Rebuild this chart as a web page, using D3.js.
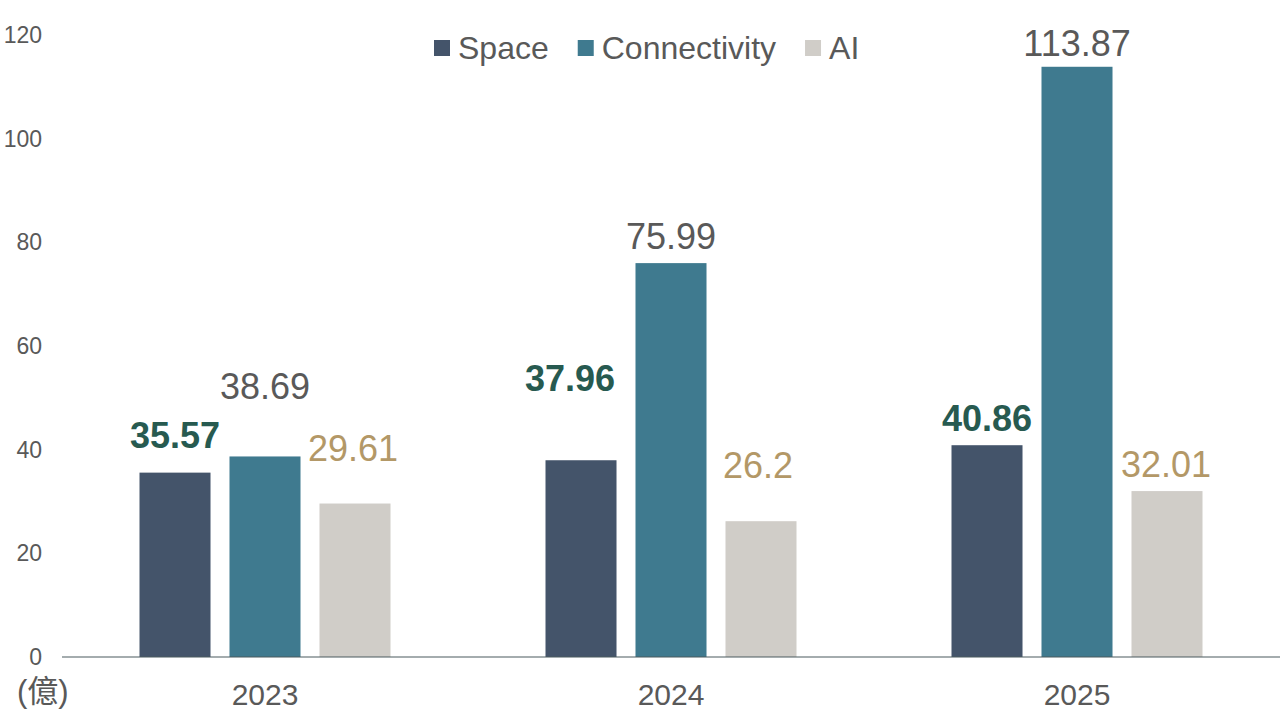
<!DOCTYPE html>
<html>
<head>
<meta charset="utf-8">
<script src="https://cdn.jsdelivr.net/npm/d3@7"></script>
<style>
  html, body { margin: 0; padding: 0; background: #fff; }
  svg { display: block; font-family: "Liberation Sans", Arial, sans-serif; }
</style>
</head>
<body>
<svg id="chart" width="1280" height="720"></svg>
<script>
// ---- data ----
const years = ["2023", "2024", "2025"];
const seriesNames = ["Space", "Connectivity", "AI"];
const spaceValues = [35.57, 37.96, 40.86];
const connectivityValues = [38.69, 75.99, 113.87];
const aiValues = [29.61, 26.2, 32.01];
const yTicks = [0, 20, 40, 60, 80, 100, 120];
const unitLabel = "(億)";

// label nudges (dx, gap above bar top) per series per year
const labelNudgeSpace = [[0, 25], [-11, 69], [0, 14]];
const labelNudgeConn = [[0, 57], [0, 14], [0, 11]];
const labelNudgeAI = [[-2, 43], [-3, 43], [-1, 14]];

const barColors = ["#44546A", "#3F7A8F", "#D0CDC8"];
const labelColors = ["#275A50", "#595959", "#B39867"];
const labelWeights = ["bold", "normal", "normal"];

const seriesValues = [spaceValues, connectivityValues, aiValues];
const nudges = [labelNudgeSpace, labelNudgeConn, labelNudgeAI];

const svg = d3.select("#chart");

const x0 = d3.scaleBand().domain(years).range([62, 1280]).paddingInner(0).paddingOuter(0);
const x1 = d3.scaleBand().domain(seriesNames).range([77.5, 328.5]).paddingInner(0.211).paddingOuter(0);
const y = d3.scaleLinear().domain([0, 120]).range([657, 35]);

// y tick labels
svg.append("g").selectAll("text").data(yTicks).join("text")
  .attr("x", 42).attr("y", d => y(d))
  .attr("dy", "0.35em")
  .attr("text-anchor", "end")
  .attr("font-size", 23)
  .attr("fill", "#595959")
  .text(d => d);

// bars
const rows = [];
seriesNames.forEach((s, si) => {
  years.forEach((yr, yi) => {
    rows.push({ series: s, si, year: yr, yi, value: seriesValues[si][yi], nudge: nudges[si][yi] });
  });
});

svg.append("g").selectAll("rect").data(rows).join("rect")
  .attr("x", d => x0(d.year) + x1(d.series))
  .attr("y", d => y(d.value))
  .attr("width", x1.bandwidth())
  .attr("height", d => y(0) - y(d.value))
  .attr("fill", d => barColors[d.si]);

// axis line
svg.append("line")
  .attr("x1", 62).attr("x2", 1280)
  .attr("y1", y(0)).attr("y2", y(0))
  .attr("stroke", "#4A5A5E").attr("stroke-width", 1.2);

// value labels
svg.append("g").selectAll("text").data(rows).join("text")
  .attr("x", d => x0(d.year) + x1(d.series) + x1.bandwidth() / 2 + d.nudge[0])
  .attr("y", d => y(d.value) - d.nudge[1])
  .attr("text-anchor", "middle")
  .attr("font-size", 36)
  .attr("font-weight", d => labelWeights[d.si])
  .attr("fill", d => labelColors[d.si])
  .text(d => d.value);

// x labels
svg.append("g").selectAll("text").data(years).join("text")
  .attr("x", d => x0(d) + x0.bandwidth() / 2)
  .attr("y", 705)
  .attr("text-anchor", "middle")
  .attr("font-size", 30)
  .attr("fill", "#595959")
  .text(d => d);

// unit label
svg.append("text")
  .attr("x", 17).attr("y", 702)
  .attr("font-size", 31)
  .attr("fill", "#595959")
  .style("font-family", "'Liberation Sans', 'Noto Sans CJK TC', sans-serif")
  .text(unitLabel);

// legend
const legend = svg.append("g");
let lx = 434;
seriesNames.forEach((s, i) => {
  legend.append("rect")
    .attr("x", lx).attr("y", 40).attr("width", 16).attr("height", 16)
    .attr("fill", barColors[i]);
  const t = legend.append("text")
    .attr("x", lx + 24).attr("y", 59)
    .attr("font-size", 32)
    .attr("fill", "#595959")
    .text(s);
  lx = lx + 24 + t.node().getComputedTextLength() + 29;
});
</script>
</body>
</html>
